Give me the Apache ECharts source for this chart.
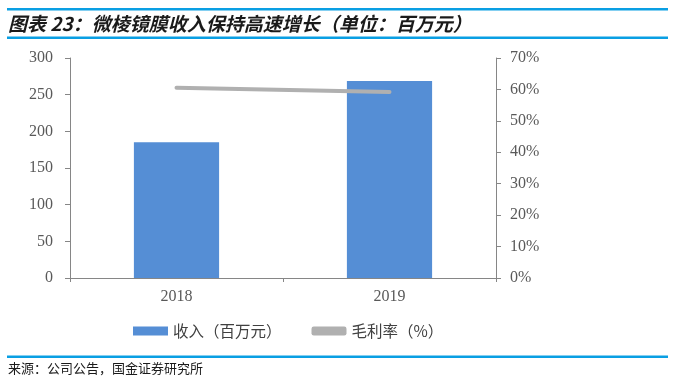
<!DOCTYPE html>
<html><head><meta charset="utf-8">
<style>html,body{margin:0;padding:0;background:#fff}#c{width:675px;height:381px}</style>
<script src="https://cdn.jsdelivr.net/npm/echarts@6/dist/echarts.min.js"></script>
</head><body><div id="c"></div>
<script>
const categories = ['2018', '2019'];
const revenue = [185, 268.5];
const grossMargin = [60.5, 59.2];
const leftTicks = [0, 300, 50];
const rightTicks = [0, 70, 10];

const chart = echarts.init(document.getElementById('c'));
const axisColor = '#868686';
const labelFont = {fontFamily: 'Liberation Serif', fontSize: 16, color: '#595959'};
chart.setOption({
  animation: false,
  title: {
    text: '图表 23：微棱镜膜收入保持高速增长（单位：百万元）',
    left: 8, top: 13, padding: 0,
    textStyle: {fontFamily: 'Noto Sans CJK SC', fontSize: 19, lineHeight: 21, fontWeight: 'bold', fontStyle: 'italic', color: '#1a1a1a'}
  },
  graphic: [
    {type: 'rect', shape: {x: 7, y: 8, width: 661, height: 2.5}, style: {fill: '#0a9fe3'}},
    {type: 'rect', shape: {x: 7, y: 36.5, width: 661, height: 2.5}, style: {fill: '#0a9fe3'}},
    {type: 'rect', shape: {x: 7, y: 355.5, width: 661, height: 2.5}, style: {fill: '#0a9fe3'}},
    {type: 'text', left: 8, top: 362, style: {text: '来源：公司公告，国金证券研究所', font: '13px "Noto Sans CJK SC"', fill: '#1a1a1a'}}
  ],
  legend: {
    top: 323, left: 133, padding: 0,
    itemGap: 30,
    itemWidth: 35, itemHeight: 9,
    textStyle: {fontFamily: 'Noto Sans CJK SC', fontSize: 15.5, lineHeight: 16, color: '#404040'},
    data: [
      {name: '收入（百万元）', icon: 'rect'},
      {name: '毛利率（%）', icon: 'roundRect', itemStyle: {color: '#b0b0b0'}}
    ]
  },
  grid: {left: 70, right: 179, top: 58, bottom: 103},
  xAxis: {
    type: 'category', data: categories,
    axisLine: {lineStyle: {color: axisColor}},
    axisTick: {show: true, length: 4, lineStyle: {color: axisColor}},
    axisLabel: Object.assign({margin: 11}, labelFont)
  },
  yAxis: [
    {type: 'value', min: leftTicks[0], max: leftTicks[1], interval: leftTicks[2],
     axisLine: {show: true, lineStyle: {color: axisColor}},
     axisTick: {show: true, length: 5, lineStyle: {color: axisColor}},
     splitLine: {show: false},
     axisLabel: Object.assign({margin: 17}, labelFont)},
    {type: 'value', min: rightTicks[0], max: rightTicks[1], interval: rightTicks[2],
     axisLine: {show: true, lineStyle: {color: axisColor}},
     axisTick: {show: true, length: 5, lineStyle: {color: axisColor}},
     splitLine: {show: false},
     axisLabel: Object.assign({margin: 14, formatter: '{value}%'}, labelFont)}
  ],
  series: [
    {name: '收入（百万元）', type: 'bar', data: revenue, barWidth: '40%',
     itemStyle: {color: '#558ed5'}},
    {name: '毛利率（%）', type: 'line', yAxisIndex: 1, data: grossMargin,
     symbol: 'none', lineStyle: {color: '#b0b0b0', width: 4, cap: 'round'}, itemStyle: {color: '#b0b0b0'}}
  ]
});
</script></body></html>
